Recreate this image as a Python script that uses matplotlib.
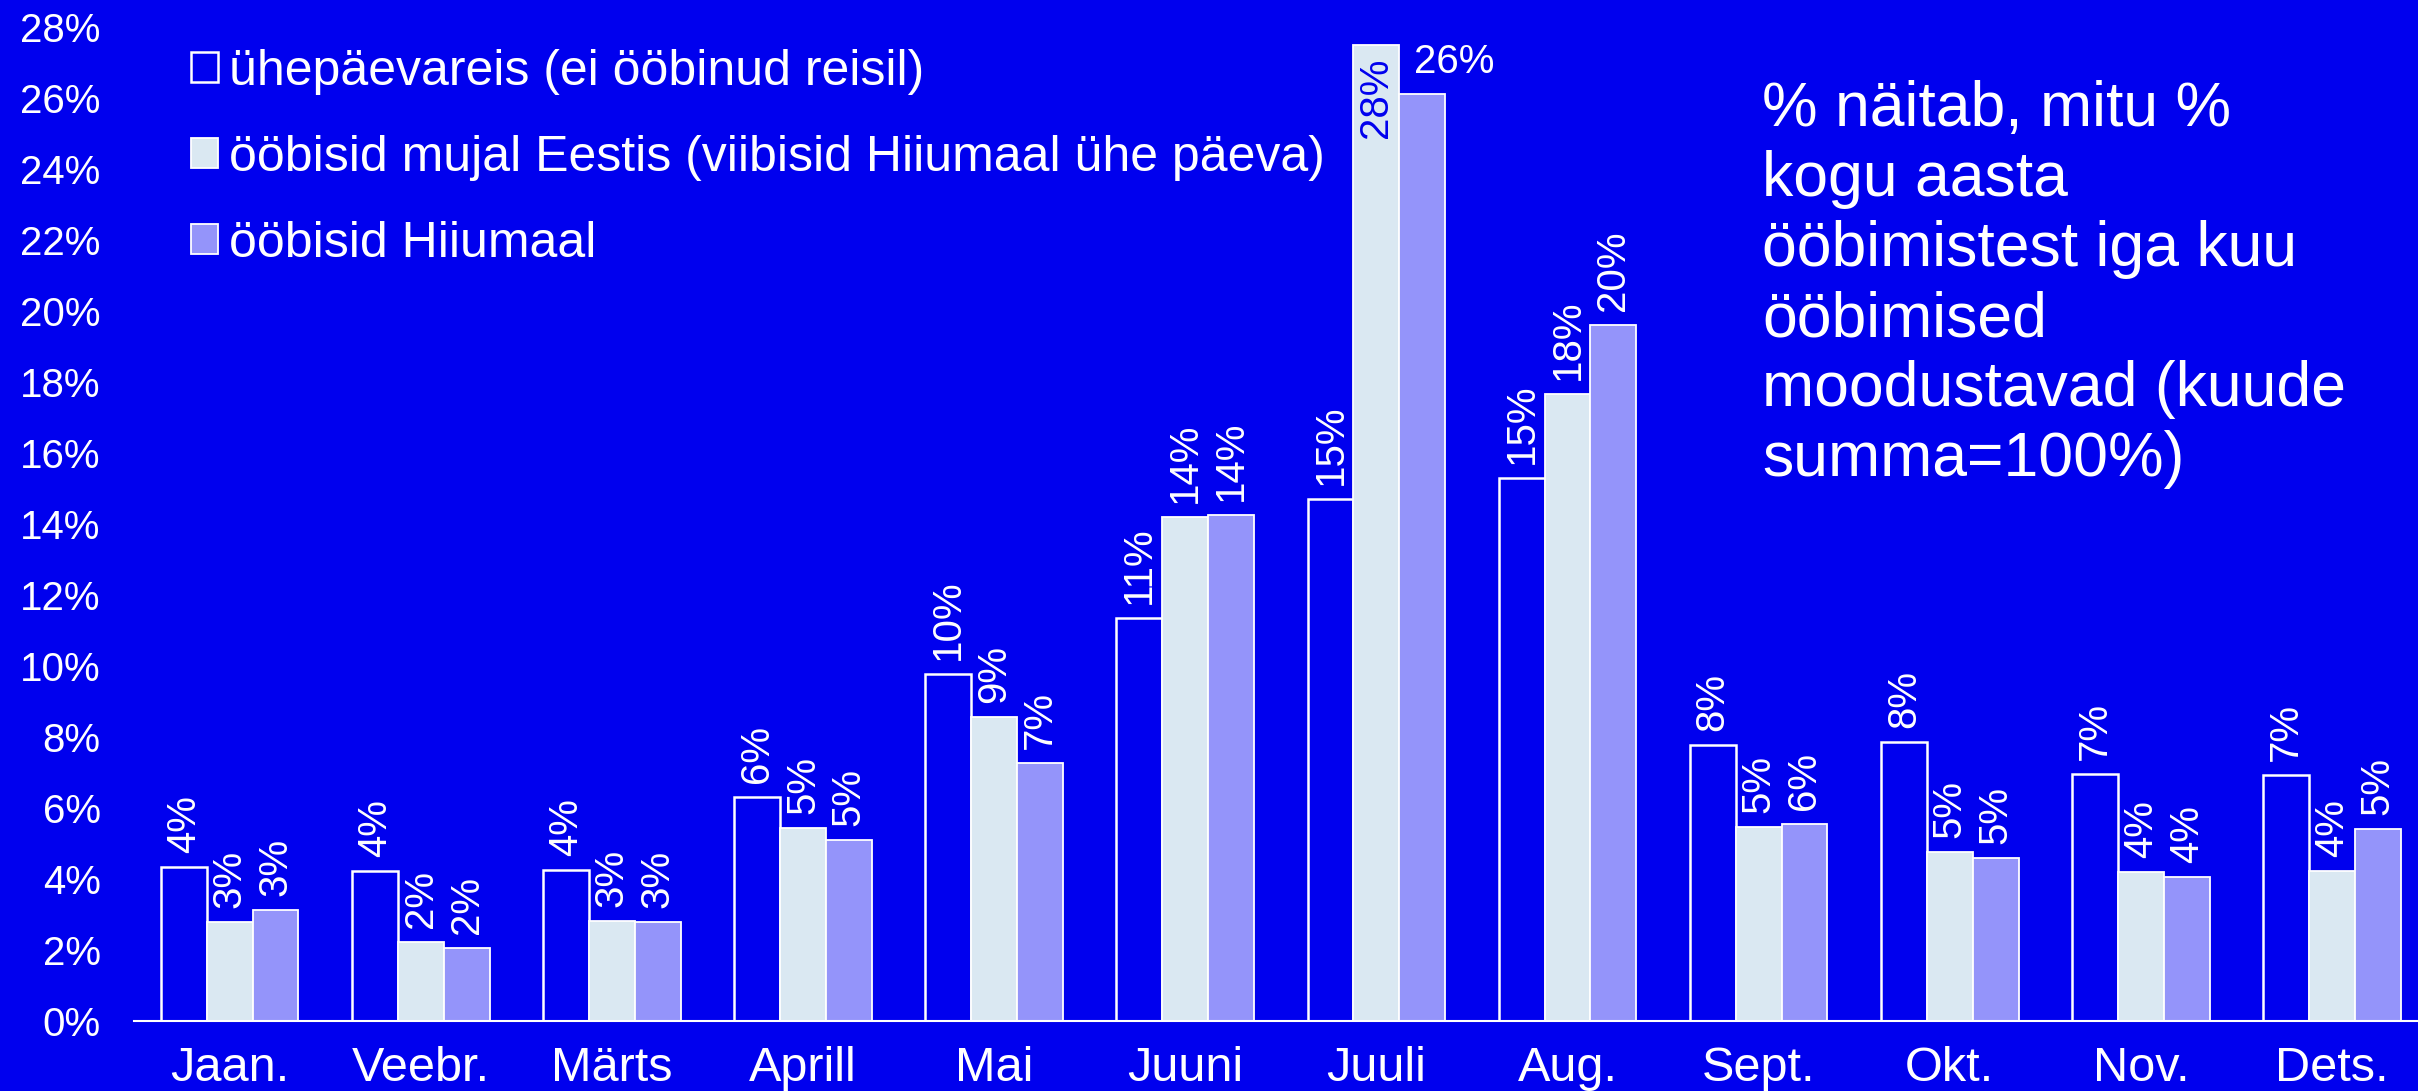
import numpy as np
import matplotlib
matplotlib.use("Agg")
import matplotlib.pyplot as plt
from matplotlib.patches import Patch

months = ['Jaan.', 'Veebr.', 'Märts', 'Aprill', 'Mai', 'Juuni',
          'Juuli', 'Aug.', 'Sept.', 'Okt.', 'Nov.', 'Dets.']
day_trip = [4.34, 4.22, 4.25, 6.30, 9.77, 11.35, 14.70, 15.30, 7.77, 7.86, 6.96, 6.93]
elsewhere = [2.79, 2.23, 2.82, 5.44, 8.57, 14.20, 27.50, 17.65, 5.46, 4.76, 4.20, 4.22]
hiiumaa = [3.13, 2.05, 2.80, 5.10, 7.26, 14.25, 26.10, 19.60, 5.54, 4.59, 4.06, 5.41]
series_names = ['ühepäevareis (ei ööbinud reisil)',
                'ööbisid mujal Eestis (viibisid Hiiumaal ühe päeva)',
                'ööbisid Hiiumaal']
y_ticks = list(range(0, 29, 2))
note = ('% näitab, mitu %\nkogu aasta\nööbimistest iga kuu\nööbimised\n'
        'moodustavad (kuude\nsumma=100%)')

BG = '#0000ee'
LIGHT = '#dae8f2'
PURPLE = '#9494fa'

plt.rcParams['font.family'] = ['Liberation Sans', 'DejaVu Sans']

W, H = 2418, 1091
fig = plt.figure(figsize=(W / 100, H / 100), dpi=100, facecolor=BG)
ax = fig.add_axes([134 / W, 1 - 1021 / H, 1 - 134 / W, (1021 - 27) / H])
ax.set_facecolor(BG)

x = np.arange(len(months))
bw = 0.24
b1 = ax.bar(x - bw, day_trip, bw, color=BG, edgecolor='white', linewidth=1.8)
b2 = ax.bar(x, elsewhere, bw, color=LIGHT, edgecolor='white', linewidth=1.3)
b3 = ax.bar(x + bw, hiiumaa, bw, color=PURPLE, edgecolor='white', linewidth=1.3)

# vaartuste sildid
for bars, vals in ((b1, day_trip), (b2, elsewhere), (b3, hiiumaa)):
    for rect, v in zip(bars, vals):
        cx = rect.get_x() + rect.get_width() / 2
        lab = f"{int(round(v))}%"
        if v > 27:
            # korgeim tulp: silt tulba sees
            ax.annotate(lab, (cx, v), xytext=(0, -13), textcoords='offset pixels',
                        rotation=90, ha='center', va='top', color=BG, fontsize=29)
        elif v > 25:
            ax.annotate(lab, (cx, v), xytext=(-8, 21), textcoords='offset pixels',
                        ha='left', va='baseline', color='white', fontsize=29)
        else:
            ax.annotate(lab, (cx, v), xytext=(0, 14), textcoords='offset pixels',
                        rotation=90, ha='center', va='bottom', color='white', fontsize=29)

ax.set_xlim(-0.5, 11.45)
ax.set_ylim(0, 28)
ax.set_yticks(y_ticks)
ax.set_yticklabels([f"{t}%" for t in y_ticks])
ax.set_xticks(x)
ax.set_xticklabels(months)
ax.tick_params(axis='y', length=0, pad=24, labelsize=29, labelcolor='white')
ax.tick_params(axis='x', length=0, pad=18, labelsize=35, labelcolor='white')
for s in ('top', 'right', 'left'):
    ax.spines[s].set_visible(False)
ax.spines['bottom'].set_color('white')
ax.spines['bottom'].set_linewidth(1.5)

handles = [Patch(facecolor=BG, edgecolor='white', linewidth=1.8),
           Patch(facecolor=LIGHT, edgecolor='white', linewidth=1.3),
           Patch(facecolor=PURPLE, edgecolor='white', linewidth=1.3)]
leg = fig.legend(handles, series_names, loc='upper left',
                 bbox_to_anchor=(191 / W, 1 - 49 / H), frameon=False,
                 fontsize=36, labelcolor='white', borderpad=0, borderaxespad=0,
                 handlelength=0.54, handleheight=0.54, handletextpad=0.22,
                 labelspacing=0.8)

fig.text(1762 / W, 1 - 80 / H, note, ha='left', va='top', color='white',
         fontsize=45, linespacing=1.24)

fig.savefig('out.png', dpi=100, facecolor=BG)
